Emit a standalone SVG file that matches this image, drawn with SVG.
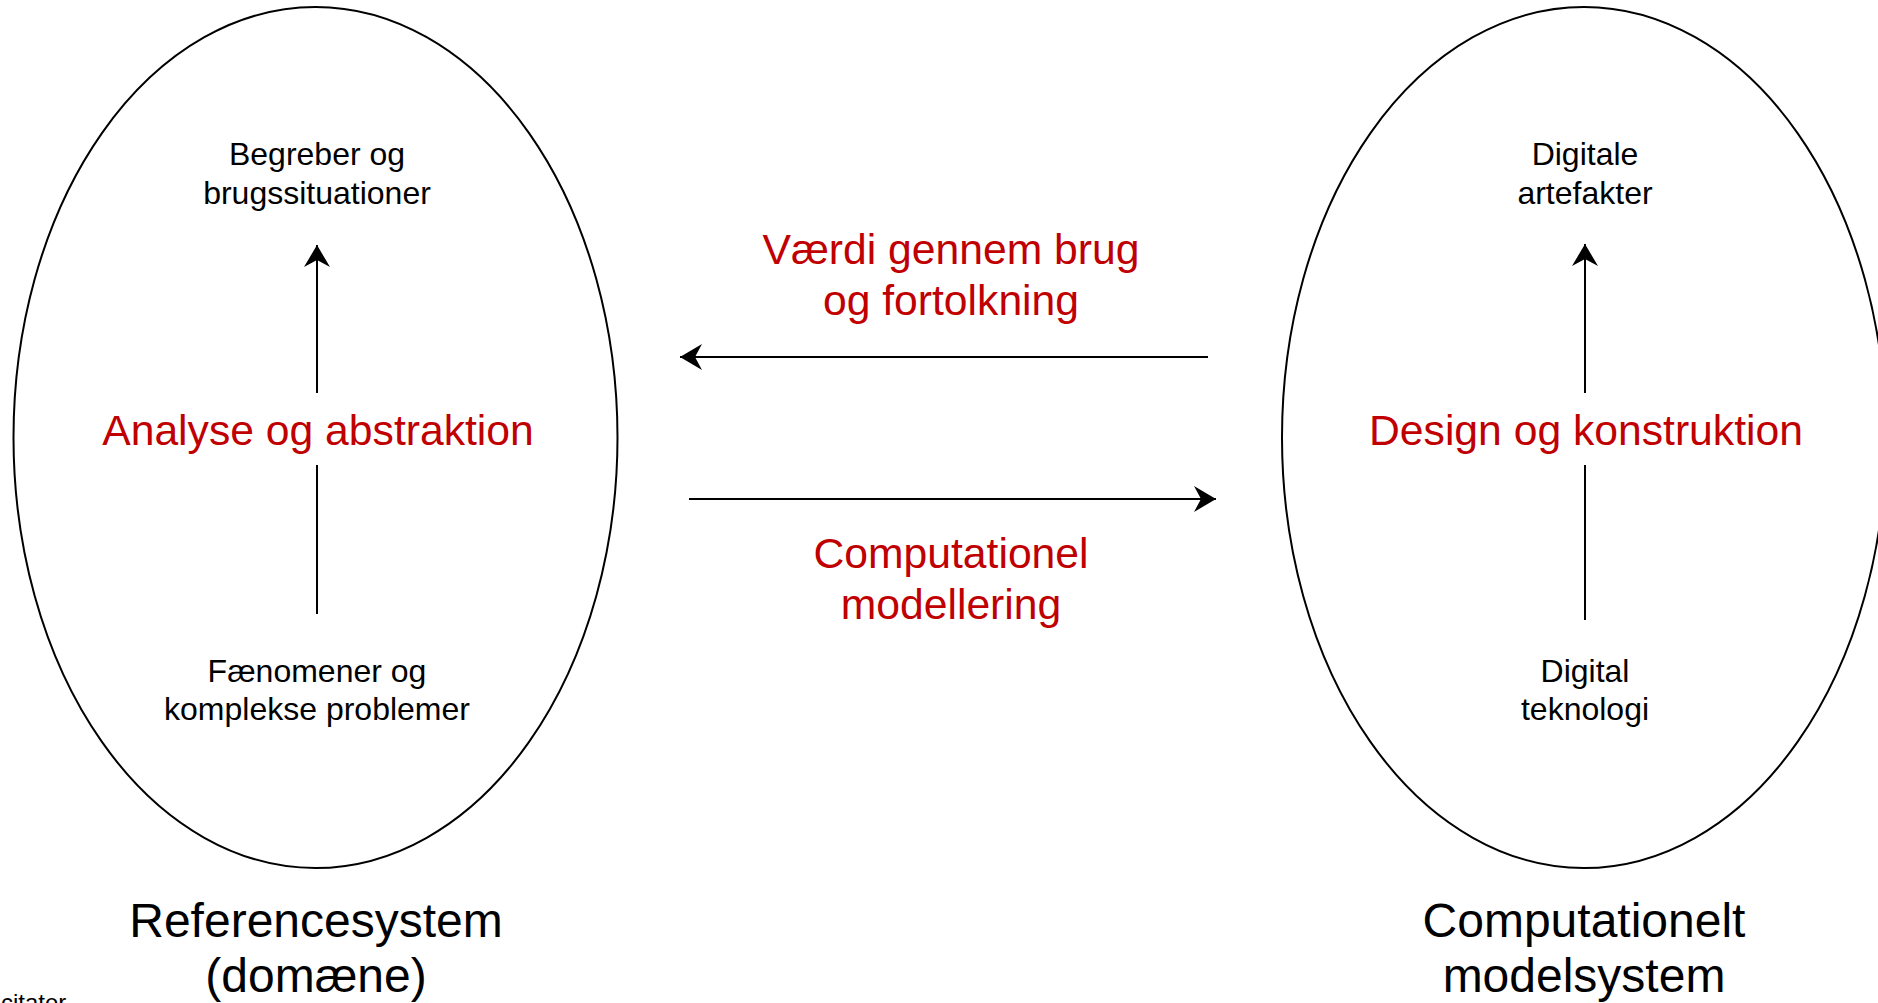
<svg xmlns="http://www.w3.org/2000/svg" width="1878" height="1003" viewBox="0 0 1878 1003">
  <style>
    .sys { fill: #ffffff; stroke: #000000; stroke-width: 2; }
    .small { font-family: "Liberation Sans", Arial, sans-serif; font-size: 32px; fill: #000000; text-anchor: middle; }
    .red { font-family: "Liberation Sans", Arial, sans-serif; font-size: 42.67px; fill: #c00000; text-anchor: middle; }
    .big { font-family: "Liberation Sans", Arial, sans-serif; font-size: 48px; fill: #000000; text-anchor: middle; }
    .note { font-family: "Liberation Sans", Arial, sans-serif; font-size: 24px; fill: #000000; }
    .conn { fill: none; stroke: #000000; stroke-width: 2; }
  </style>
  <defs>
    <marker id="arrow" markerUnits="userSpaceOnUse" markerWidth="24" markerHeight="28" refX="22" refY="13" orient="auto" viewBox="0 0 24 28">
      <path d="M22,13 L0,0 L7,13 L0,26 Z" fill="#000000"/>
    </marker>
  </defs>
  <rect x="0" y="0" width="1878" height="1003" fill="#ffffff"/>

  <g id="referencesystem">
    <ellipse class="sys" cx="315.5" cy="437.5" rx="302" ry="430.5"/>
    <text class="small" x="317" y="165">Begreber og</text>
    <text class="small" x="317" y="204">brugssituationer</text>
    <text class="red" x="318" y="445">Analyse og abstraktion</text>
    <text class="small" x="317" y="682">Fænomener og</text>
    <text class="small" x="317" y="720">komplekse problemer</text>
    <text class="big" x="316" y="937">Referencesystem</text>
    <text class="big" x="316" y="992">(domæne)</text>
  </g>

  <g id="modelsystem">
    <ellipse class="sys" cx="1584" cy="437.5" rx="302" ry="430.5"/>
    <text class="small" x="1585" y="165">Digitale</text>
    <text class="small" x="1585" y="204">artefakter</text>
    <text class="red" x="1586" y="445">Design og konstruktion</text>
    <text class="small" x="1585" y="682">Digital</text>
    <text class="small" x="1585" y="720">teknologi</text>
    <text class="big" x="1584" y="937">Computationelt</text>
    <text class="big" x="1584" y="992">modelsystem</text>
  </g>

  <g id="labels">
    <text class="red" x="951" y="264">Værdi gennem brug</text>
    <text class="red" x="951" y="315">og fortolkning</text>
    <text class="red" x="951" y="568">Computationel</text>
    <text class="red" x="951" y="619">modellering</text>
    <text class="note" x="1" y="1011">citater</text>
  </g>

  <g id="connectors">
    <line class="conn" x1="317" y1="614" x2="317" y2="465"/>
    <line class="conn" x1="317" y1="393" x2="317" y2="245" marker-end="url(#arrow)"/>
    <line class="conn" x1="1585" y1="620" x2="1585" y2="465"/>
    <line class="conn" x1="1585" y1="393" x2="1585" y2="244" marker-end="url(#arrow)"/>
    <line class="conn" x1="1208" y1="357" x2="680" y2="357" marker-end="url(#arrow)"/>
    <line class="conn" x1="689" y1="499" x2="1216" y2="499" marker-end="url(#arrow)"/>
  </g>
</svg>
